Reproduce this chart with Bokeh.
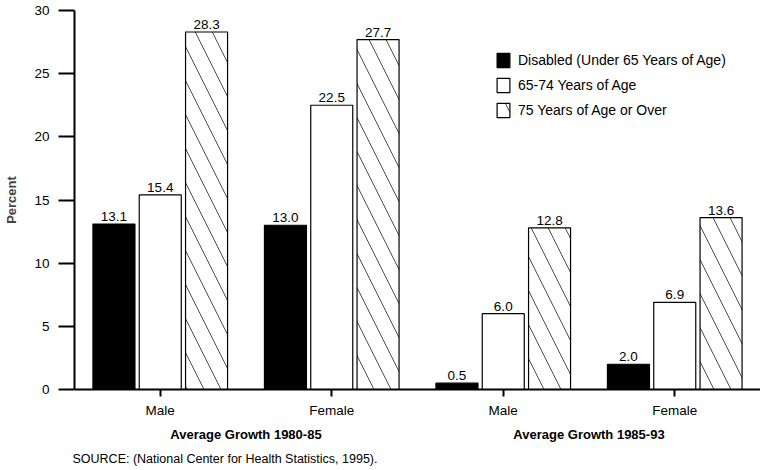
from bokeh.plotting import figure
from bokeh.models import FactorRange, Range1d, ColumnDataSource, Legend, LegendItem, Title
from bokeh.transform import dodge
from bokeh.core.properties import value
from bokeh.embed import file_html
from bokeh.resources import INLINE

periods = ["Average Growth 1980-85", "Average Growth 1980-85",
           "Average Growth 1985-93", "Average Growth 1985-93"]
sexes = ["Male", "Female", "Male", "Female"]
disabled = [13.1, 13.0, 0.5, 2.0]
age_65_74 = [15.4, 22.5, 6.0, 6.9]
age_75_over = [28.3, 27.7, 12.8, 13.6]
series_names = ["Disabled (Under 65 Years of Age)", "65-74 Years of Age", "75 Years of Age or Over"]
y_ticks = [0, 5, 10, 15, 20, 25, 30]
source_text = "SOURCE: (National Center for Health Statistics, 1995)."

FONT = "Liberation Sans"
factors = list(zip(periods, sexes))

src = ColumnDataSource(dict(
    x=factors,
    d=disabled, a=age_65_74, o=age_75_over,
    dl=[f"{v:.1f}" for v in disabled],
    al=[f"{v:.1f}" for v in age_65_74],
    ol=[f"{v:.1f}" for v in age_75_over],
))

p = figure(width=760, height=470,
           x_range=FactorRange(*factors, group_padding=0, factor_padding=0, range_padding=0),
           y_range=Range1d(0, 30),
           output_backend="svg", toolbar_location=None,
           min_border_left=74, min_border_right=0, min_border_top=10, min_border_bottom=40)
p.outline_line_color = None
p.xgrid.visible = False
p.ygrid.visible = False
p.background_fill_color = "white"

off = 0.27
w = 0.245
r1 = p.vbar(x=dodge("x", -off, range=p.x_range), top="d", width=w, source=src,
            fill_color="black", line_color="black", line_width=1.2)
r2 = p.vbar(x=dodge("x", 0, range=p.x_range), top="a", width=w, source=src,
            fill_color="white", line_color="black", line_width=1.2)
r3 = p.vbar(x=dodge("x", off, range=p.x_range), top="o", width=w, source=src,
            fill_color="white", line_color="black", line_width=1.2,
            hatch_pattern="\\", hatch_color="black", hatch_weight=0.7, hatch_scale=34)

for col, lab, dx in (("d", "dl", -off), ("a", "al", 0), ("o", "ol", off)):
    p.text(x=dodge("x", dx, range=p.x_range), y=col, text=lab, source=src,
           text_align="center", text_baseline="bottom", y_offset=-3,
           text_font=value(FONT), text_font_size="13.5px", text_color="black")

# axes
ya = p.yaxis[0]
ya.ticker = y_ticks
ya.major_tick_out = 16
ya.major_tick_in = 0
ya.minor_tick_line_color = None
ya.axis_line_width = 2
ya.major_tick_line_width = 2
ya.major_label_standoff = 9
ya.major_label_text_font = FONT
ya.major_label_text_font_size = "13.5px"
ya.major_label_text_color = "black"
ya.axis_label = "Percent"
ya.axis_label_text_font = FONT
ya.axis_label_text_font_style = "bold"
ya.axis_label_text_font_size = "13px"
ya.axis_label_standoff = 12

xa = p.xaxis[0]
xa.axis_line_width = 2
xa.major_tick_out = 7
xa.major_tick_in = 0
xa.major_tick_line_width = 2
xa.major_label_standoff = 6
xa.major_label_text_font = FONT
xa.major_label_text_font_size = "13.5px"
xa.major_label_text_color = "black"
xa.group_text_font = FONT
xa.group_text_font_style = "bold"
xa.group_text_font_size = "13px"
xa.group_text_color = "black"
xa.separator_line_color = None

legend = Legend(items=[LegendItem(label=series_names[0], renderers=[r1]),
                       LegendItem(label=series_names[1], renderers=[r2]),
                       LegendItem(label=series_names[2], renderers=[r3])],
                location=(421, 270), border_line_color=None, background_fill_alpha=0,
                padding=0, spacing=7, margin=0, glyph_width=16, glyph_height=18,
                label_height=18, label_standoff=7,
                label_text_font=FONT, label_text_font_size="14px", label_text_color="black")
p.add_layout(legend)

p.add_layout(Title(text=source_text, align="left", offset=-2, standoff=10,
                   text_font=FONT, text_font_style="normal", text_font_size="12.5px",
                   text_color="black"), "below")

open("out.html", "w").write(file_html(p, INLINE))
